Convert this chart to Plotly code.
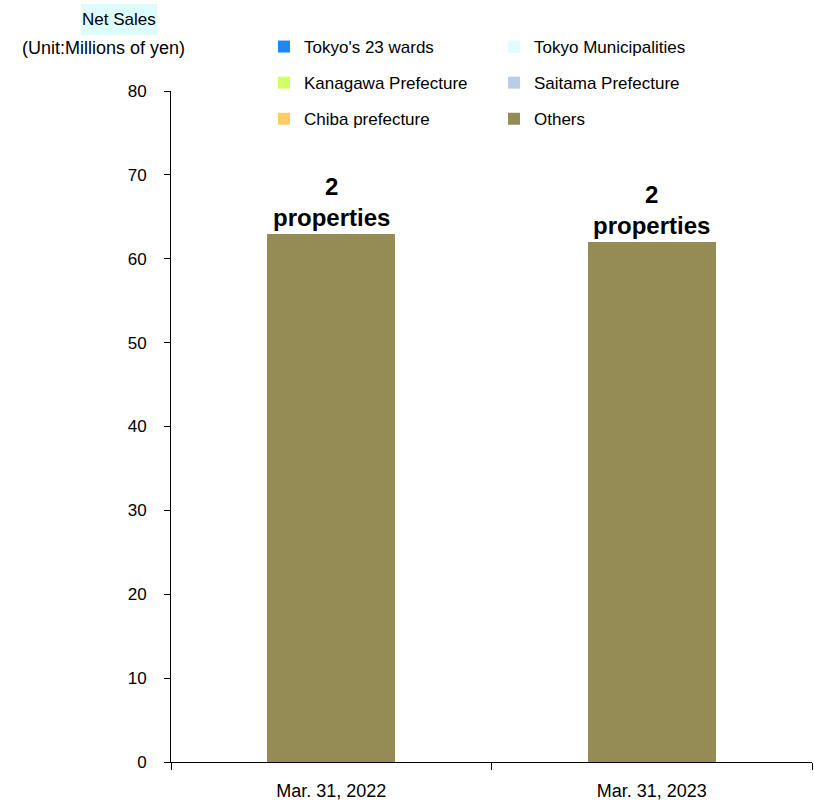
import plotly.graph_objects as go

categories = ["Mar. 31, 2022", "Mar. 31, 2023"]
series_names = ["Tokyo's 23 wards", "Tokyo Municipalities", "Kanagawa Prefecture",
                "Saitama Prefecture", "Chiba prefecture", "Others"]
series_values = {
    "Tokyo's 23 wards": [0, 0],
    "Tokyo Municipalities": [0, 0],
    "Kanagawa Prefecture": [0, 0],
    "Saitama Prefecture": [0, 0],
    "Chiba prefecture": [0, 0],
    "Others": [63, 62],
}
property_counts = [2, 2]
colors = {
    "Tokyo's 23 wards": "#1F88F0",
    "Tokyo Municipalities": "#DDFFFF",
    "Kanagawa Prefecture": "#D2FF66",
    "Saitama Prefecture": "#B9CDE5",
    "Chiba prefecture": "#FFCC66",
    "Others": "#958B54",
}
legend_of = {
    "Tokyo's 23 wards": "legend", "Kanagawa Prefecture": "legend", "Chiba prefecture": "legend",
    "Tokyo Municipalities": "legend2", "Saitama Prefecture": "legend2", "Others": "legend2",
}

FONT = "Liberation Sans Narrow, Arial Narrow, Liberation Sans, Arial, sans-serif"

fig = go.Figure()
for name in series_names:
    fig.add_trace(go.Bar(
        x=categories, y=series_values[name], name=name,
        marker=dict(color=colors[name], line=dict(width=0)),
        legend=legend_of[name], legendgroup=name,
        width=0.4,
    ))

totals = [sum(series_values[n][i] for n in series_names) for i in range(len(categories))]
for i, cat in enumerate(categories):
    fig.add_annotation(
        x=cat, y=totals[i], xref="x", yref="y", yanchor="bottom",
        text=f"<b>{property_counts[i]}<br>properties</b>", showarrow=False,
        font=dict(family=FONT, size=24, color="black"), yshift=1,
    )

W, H = 814, 803
ml, mt = 171, 91
mr = W - 812
mb = H - 762
pw, ph = W - ml - mr, H - mt - mb

def px(xs):
    return (xs - ml) / pw

def py(ys):
    return (H - mb - ys) / ph

fig.add_shape(type="rect", xref="paper", yref="paper",
              x0=px(81), x1=px(157), y0=py(35), y1=py(4),
              fillcolor="#DDFDFD", line=dict(width=0), layer="below")
fig.add_annotation(x=px(119), y=py(20), xref="paper", yref="paper", xanchor="center", yanchor="middle",
                   text="Net Sales", showarrow=False,
                   font=dict(family=FONT, size=17, color="black"))
fig.add_annotation(x=px(103), y=py(48), xref="paper", yref="paper", xanchor="center", yanchor="middle",
                   text="(Unit:Millions of yen)", showarrow=False,
                   font=dict(family=FONT, size=18, color="black"))

legend_common = dict(
    font=dict(family=FONT, size=17, color="black"),
    bgcolor="rgba(0,0,0,0)", traceorder="grouped", tracegroupgap=11,
    itemwidth=30, xanchor="left", yanchor="top", itemclick=False,
)
fig.update_layout(
    barmode="stack",
    width=W, height=H,
    margin=dict(l=ml, r=mr, t=mt, b=mb),
    paper_bgcolor="white", plot_bgcolor="white",
    font=dict(family=FONT, size=17, color="black"),
    legend=dict(x=px(264), y=py(29), **legend_common),
    legend2=dict(x=px(494), y=py(29), **legend_common),
    xaxis=dict(showline=True, linecolor="black", linewidth=1, ticks="outside", ticklen=7,
               tickcolor="black", tickson="boundaries", showgrid=False, ticklabelstandoff=12,
               tickfont=dict(family=FONT, size=18, color="black")),
    yaxis=dict(range=[0, 80], dtick=10, showline=True, linecolor="black", linewidth=1,
               ticks="outside", ticklen=6, tickcolor="black", showgrid=False, zeroline=False,
               ticklabelstandoff=14,
               tickfont=dict(family=FONT, size=17, color="black")),
    showlegend=True,
)
fig.write_html("out.html", config={"displayModeBar": False},
               post_script="document.body.style.margin='0';document.body.style.overflow='hidden';")
